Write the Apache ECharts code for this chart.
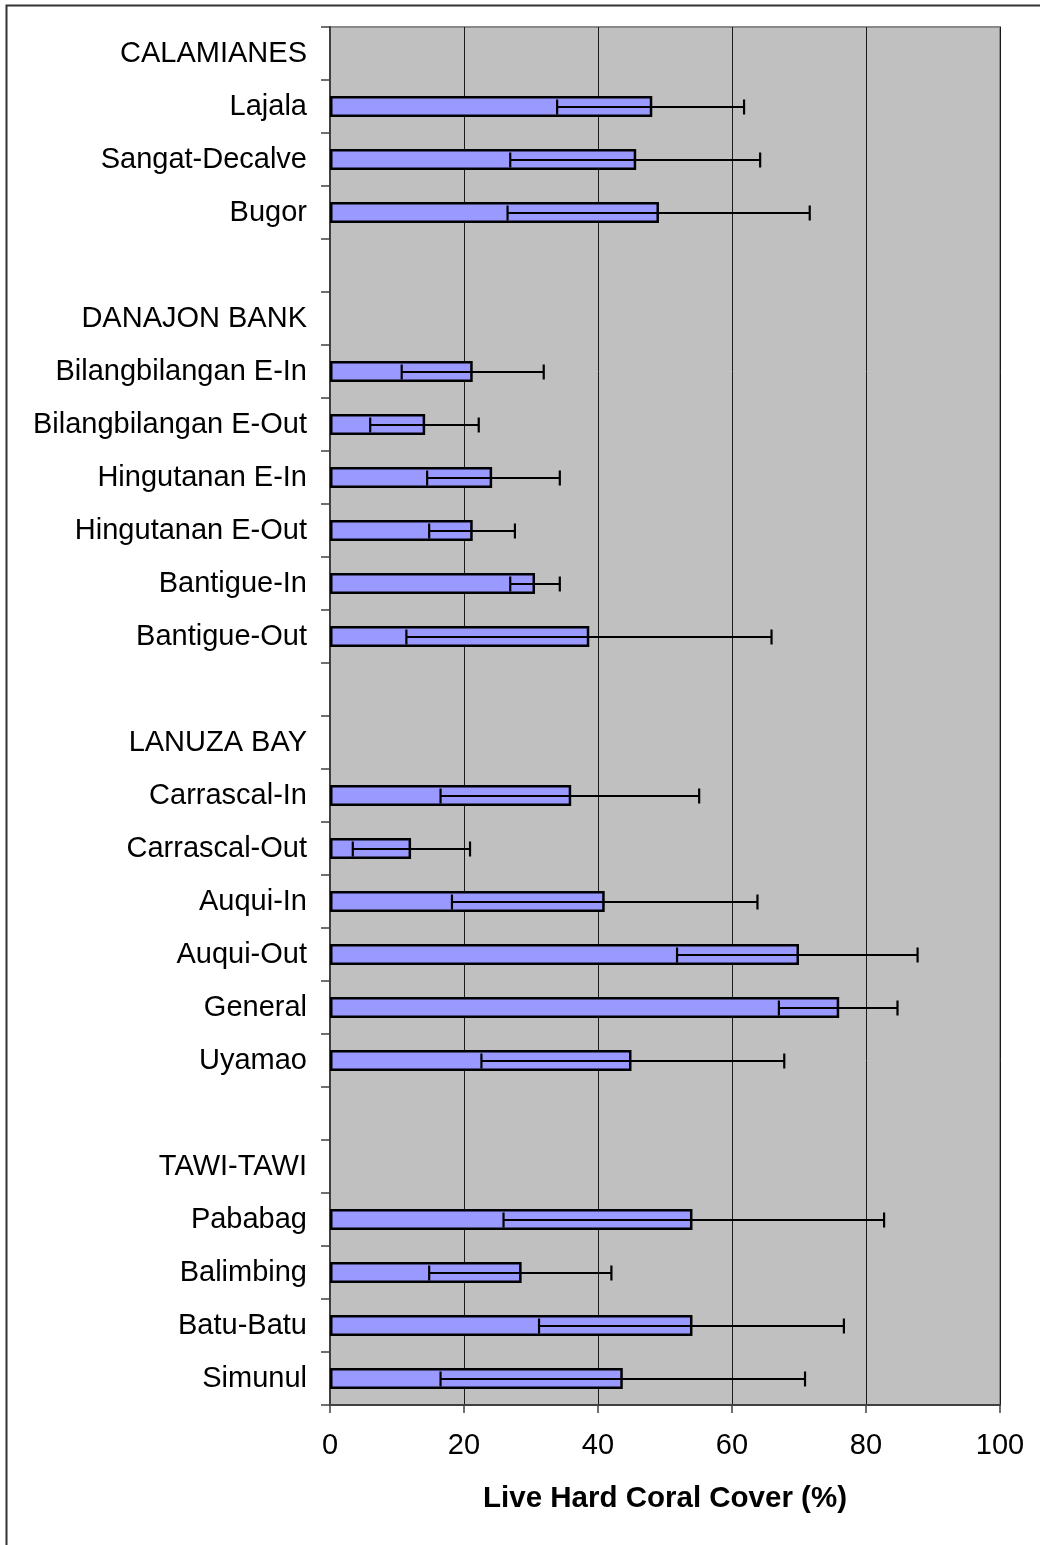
<!DOCTYPE html>
<html>
<head>
<meta charset="utf-8">
<script src="https://cdn.jsdelivr.net/npm/echarts@6/dist/echarts.min.js"></script>
<style>
html,body{margin:0;padding:0;background:#fff;}
#chart{width:1040px;height:1545px;}
</style>
</head>
<body>
<div id="chart"></div>
<script>
const categories = ['CALAMIANES','Lajala','Sangat-Decalve','Bugor',' ',
  'DANAJON BANK','Bilangbilangan E-In','Bilangbilangan E-Out','Hingutanan E-In','Hingutanan E-Out','Bantigue-In','Bantigue-Out','  ',
  'LANUZA BAY','Carrascal-In','Carrascal-Out','Auqui-In','Auqui-Out','General','Uyamao','   ',
  'TAWI-TAWI','Pababag','Balimbing','Batu-Batu','Simunul'];
const coverValues = [null,48.1,45.7,49.1,null,
  null,21.3,14.2,24.2,21.3,30.6,38.7,null,
  null,36.0,12.1,41.0,70.0,76.0,45.0,null,
  null,54.1,28.6,54.1,43.7];
const errorLow = [null,33.9,26.9,26.5,null,
  null,10.7,6.0,14.5,14.8,26.9,11.4,null,
  null,16.5,3.4,18.2,51.8,67.0,22.6,null,
  null,25.9,14.8,31.2,16.5];
const errorHigh = [null,61.8,64.2,71.6,null,
  null,31.9,22.2,34.3,27.6,34.3,65.9,null,
  null,55.1,20.9,63.8,87.7,84.7,67.8,null,
  null,82.7,42.0,76.7,70.9];
const xTicks = [0,20,40,60,80,100];
const axisTitle = 'Live Hard Coral Cover (%)';

const FONT = "'Liberation Sans', Arial, sans-serif";
const errData = [];
categories.forEach((c,i)=>{ if(errorLow[i]!=null) errData.push([i, errorLow[i], errorHigh[i]]); });

const chart = echarts.init(document.getElementById('chart'), null, {renderer:'canvas'});
chart.setOption({
  animation:false,
  backgroundColor:'#ffffff',
  graphic:[{
    type:'rect', left:4, top:3, z:100, silent:true,
    shape:{x:0,y:0,width:1060,height:1560},
    style:{fill:'none', stroke:'#333333', lineWidth:2}
  }],
  grid:{
    left:330, right:40, top:27, bottom:140,
    containLabel:false, outerBoundsMode:'none',
    show:true, backgroundColor:'#C0C0C0', borderColor:'#8a8a8a', borderWidth:2
  },
  xAxis:{
    type:'value', min:xTicks[0], max:xTicks[xTicks.length-1], interval:20,
    position:'bottom',
    axisLine:{show:true, onZero:false, lineStyle:{color:'#404040', width:2}},
    axisTick:{show:true, length:8, lineStyle:{color:'#404040', width:1.5}},
    axisLabel:{fontSize:29, color:'#000', margin:26, fontFamily:FONT},
    splitLine:{show:true, lineStyle:{color:'#1a1a1a', width:1}},
    name:axisTitle, nameLocation:'middle', nameGap:79,
    nameTextStyle:{fontSize:29.5, fontWeight:'bold', color:'#000', fontFamily:FONT}
  },
  yAxis:{
    type:'category', data:categories, inverse:true,
    axisLine:{show:true, lineStyle:{color:'#404040', width:2}},
    axisTick:{show:true, length:9, lineStyle:{color:'#404040', width:1.5}},
    axisLabel:{fontSize:29, color:'#000', margin:23, fontFamily:FONT},
    splitLine:{show:false}
  },
  series:[{
    type:'bar', data:coverValues, barWidth:21,
    itemStyle:{color:'#9999FF', borderColor:'#000', borderWidth:2.5}
  },{
    type:'custom', data:errData,
    encode:{x:[1,2], y:0},
    z:5,
    renderItem:function(params, api){
      const ci = api.value(0);
      const p1 = api.coord([api.value(1), ci]);
      const p2 = api.coord([api.value(2), ci]);
      const y = Math.round(p1[1]);
      const h = 7.5;
      const st = {stroke:'#000', lineWidth:2.2};
      return {type:'group', children:[
        {type:'line', shape:{x1:p1[0], y1:y, x2:p2[0], y2:y}, style:st},
        {type:'line', shape:{x1:p1[0], y1:y-h, x2:p1[0], y2:y+h}, style:st},
        {type:'line', shape:{x1:p2[0], y1:y-h, x2:p2[0], y2:y+h}, style:st}
      ]};
    }
  }]
});
</script>
</body>
</html>
